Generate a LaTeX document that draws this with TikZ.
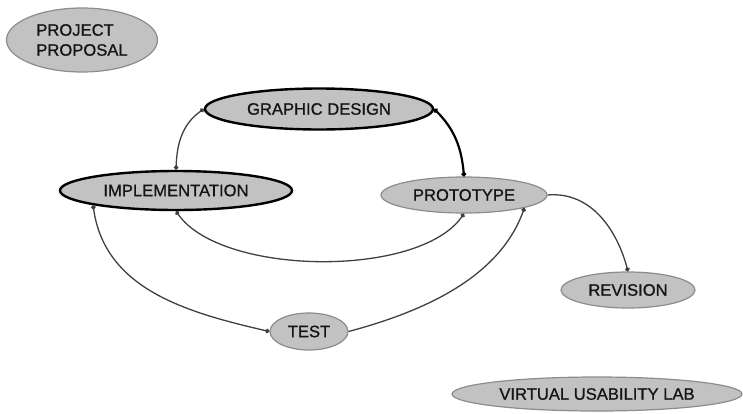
\documentclass[tikz,border=0pt]{standalone}
\usepackage{fontspec}
\setmainfont{Liberation Sans}[FakeBold=0.8]
\usetikzlibrary{shapes.geometric,arrows.meta}

\definecolor{bubblefill}{HTML}{C2C2C2}
\definecolor{rim}{HTML}{8C8C8C}
\definecolor{ink}{HTML}{141414}
\definecolor{wirecol}{HTML}{404040}

\begin{document}
\begin{tikzpicture}[x=1pt,y=1pt,
  bubble/.style={ellipse, draw=rim, line width=1.2pt, fill=bubblefill,
    inner sep=0pt, text=ink, font=\fontsize{16.6}{20}\selectfont},
  keybubble/.style={bubble, draw=black, line width=2.4pt},
  wire/.style={draw=wirecol, line width=1.3pt},
  boldwire/.style={draw=black, line width=2.2pt},
  dotboth/.style={{Circle[length=4.5pt]}-{Circle[length=4.5pt]}},
  dotend/.style={-{Circle[length=4.5pt]}}]

  \useasboundingbox (0,0) rectangle (743,-413);

  % stages
  \node[bubble, minimum width=151pt, minimum height=64pt, align=left] (pp) at (82,-40) {PROJECT\\PROPOSAL};
  \node[keybubble, minimum width=228pt, minimum height=41pt] (gd) at (319,-109) {GRAPHIC DESIGN};
  \node[keybubble, minimum width=232pt, minimum height=39pt] (impl) at (176,-190.5) {IMPLEMENTATION};
  \node[bubble, minimum width=166pt, minimum height=36pt] (proto) at (464,-195) {PROTOTYPE};
  \node[bubble, minimum width=134pt, minimum height=36pt] (rev) at (628,-290) {REVISION};
  \node[bubble, minimum width=78pt, minimum height=37pt] (test) at (309,-331.5) {TEST};
  \node[bubble, minimum width=290pt, minimum height=34pt] (vul) at (597,-394) {VIRTUAL USABILITY LAB};

  % flows between stages
  \draw[wire, dotboth] (gd.west) to[out=215, in=88] (impl.north);
  \draw[boldwire, dotboth] (gd.east) to[out=-45, in=95] (proto.north);
  \draw[wire, dotboth] (impl.south) to[out=-55, in=-125, looseness=0.7] (proto.south);
  \draw[wire, dotboth] (impl.190) to[out=-82, in=167] (test.west);
  \draw[wire, dotend] (test.east) to[out=15, in=-110, looseness=0.9] (proto.-12);
  \draw[wire, dotend] (proto.east) to[out=5, in=105] (rev.north);
\end{tikzpicture}
\end{document}
